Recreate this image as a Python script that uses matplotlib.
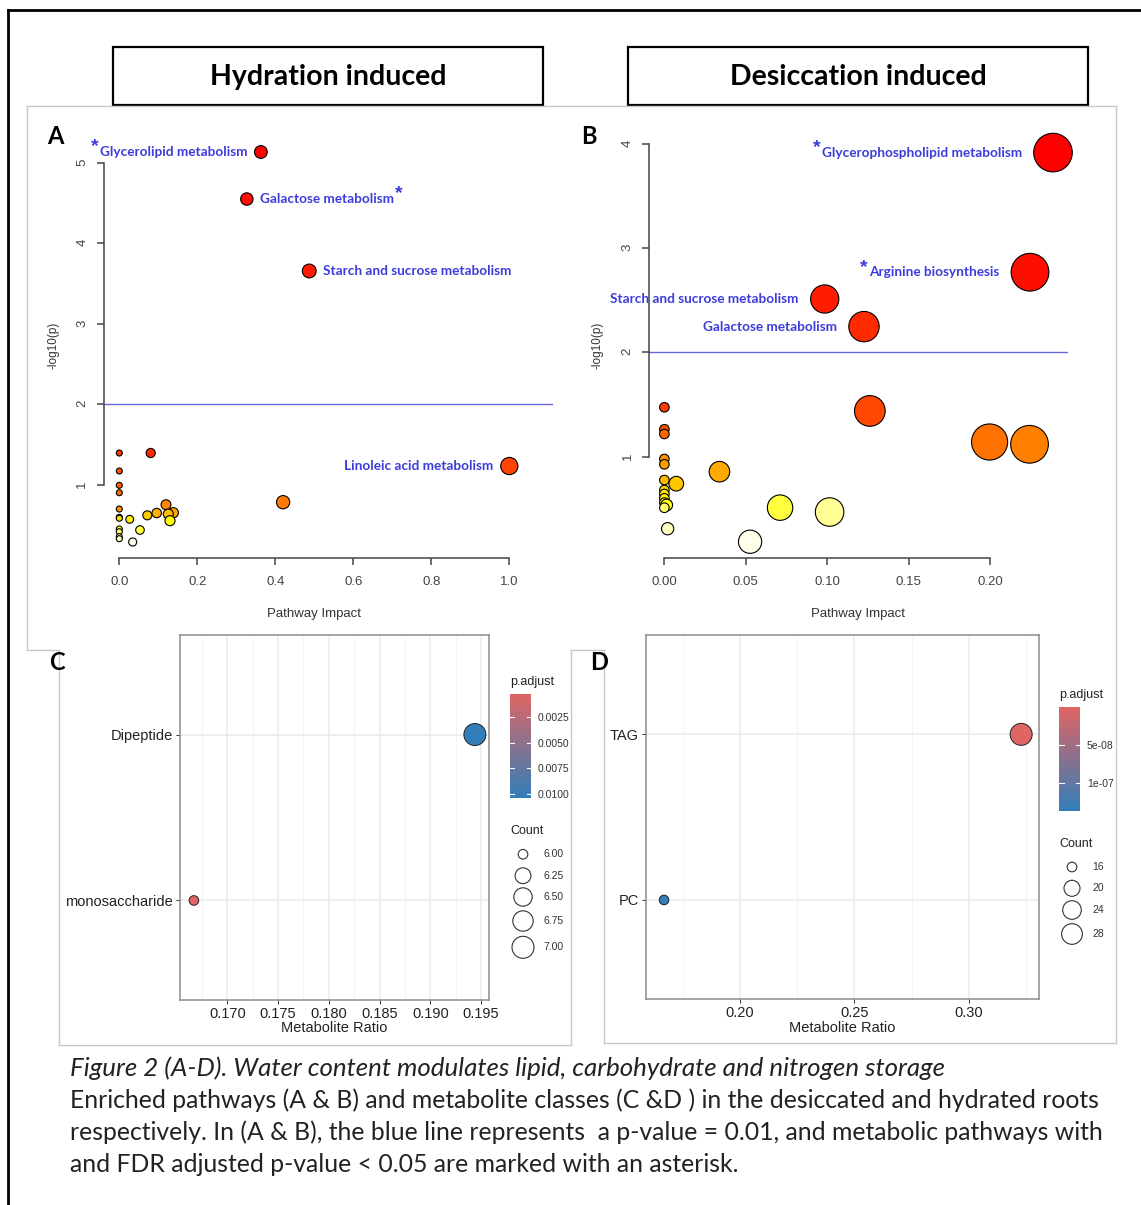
import colorsys
import matplotlib
matplotlib.use("Agg")
import matplotlib.pyplot as plt
import numpy as np
from matplotlib.colors import LinearSegmentedColormap, Normalize
from matplotlib.patches import Rectangle

plt.rcParams["font.family"] = ["Liberation Sans", "DejaVu Sans"]

# ---------------- data ----------------
# Panel A - hydration induced pathways (pathway impact, -log10 p)
labA_names = ["Glycerolipid metabolism", "Galactose metabolism",
              "Starch and sucrose metabolism", "Linoleic acid metabolism"]
labA_impact = [0.363, 0.327, 0.487, 1.0]
labA_logp = [5.136, 4.551, 3.656, 1.23]
labA_fdr = [True, True, False, False]
othA_impact = [0.420, 0.0805, 0.0267, 0.053, 0.0343, 0.0718, 0.0959, 0.1197, 0.1385,
               0.1256, 0.130, 0, 0, 0, 0, 0, 0, 0, 0, 0, 0, 0]
othA_logp = [0.78, 1.392, 0.567, 0.434, 0.285, 0.617, 0.645, 0.749, 0.649,
             0.633, 0.55, 1.392, 1.168, 0.99, 0.898, 0.695, 0.592, 0.58, 0.447,
             0.413, 0.351, 0.326]

# Panel B - desiccation induced pathways
labB_names = ["Glycerophospholipid metabolism", "Arginine biosynthesis",
              "Starch and sucrose metabolism", "Galactose metabolism"]
labB_impact = [0.2385, 0.2244, 0.0984, 0.1225]
labB_logp = [3.918, 2.770, 2.513, 2.248]
labB_fdr = [True, True, False, False]
othB_impact = [0.1261, 0.1996, 0.2241, 0.0338, 0.0073, 0.071, 0.1014, 0.0526, 0.002,
               0.0014, 0, 0, 0, 0, 0, 0, 0, 0, 0, 0, 0]
othB_logp = [1.439, 1.141, 1.119, 0.856, 0.741, 0.511, 0.469, 0.184, 0.309,
             0.536, 1.474, 1.263, 1.218, 0.978, 0.927, 0.776, 0.68, 0.642, 0.60,
             0.559, 0.51]

# Panel C / D - metabolite class enrichment
classC = ["Dipeptide", "monosaccharide"]
ratioC = [0.1944, 0.1667]
countC = [7, 6]
padjC = [0.0104, 0.0003]
cbar_ticksC = [0.0025, 0.0050, 0.0075, 0.0100]
count_breaksC = [6.00, 6.25, 6.50, 6.75, 7.00]

classD = ["TAG", "PC"]
ratioD = [0.3229, 0.1667]
countD = [31, 16]
padjD = [1e-9, 1.375e-7]
cbar_ticksD = [5e-08, 1e-07]
count_breaksD = [16, 20, 24, 28]

caption_title = "Figure 2 (A-D). Water content modulates lipid, carbohydrate and nitrogen storage"
caption_lines = [
    "Enriched pathways (A & B) and metabolite classes (C &D ) in the desiccated and hydrated roots",
    "respectively. In (A & B), the blue line represents  a p-value = 0.01, and metabolic pathways with",
    "and FDR adjusted p-value < 0.05 are marked with an asterisk.",
]

# ---------------- style ----------------
W, H = 1141, 1205
LABEL_BLUE = "#3C3CDC"
LINE_BLUE = "#6666E2"
AXIS_GRAY = "#444444"
PANEL_GRAY = "#C8C8C8"
PCMAP = LinearSegmentedColormap.from_list("padj", ["#e06663", "#327eba"])

fig = plt.figure(figsize=(W / 100, H / 100), dpi=100)


def frac(l, t, r, b):
    return [l / W, 1 - b / H, (r - l) / W, (b - t) / H]


bg = fig.add_axes([0, 0, 1, 1])
bg.set_xlim(0, W)
bg.set_ylim(H, 0)
bg.axis("off")


def heat_colors(n):
    # same ramp as R's heat.colors()
    j = n // 4
    i = n - j
    cols = [colorsys.hsv_to_rgb(h, 1, 1) for h in np.linspace(0, 1 / 6, i)]
    cols += [colorsys.hsv_to_rgb(1 / 6, s, 1)
             for s in np.linspace(1 - 1 / (2 * j), 1 / (2 * j), j)]
    return np.array(cols)


def pathway_panel(box, xlim, ylim, xspan, yspan, xticks, xlabels, yticks,
                  lab_imp, lab_logp, lab_names, lab_side,
                  oth_imp, oth_logp, rmin, rmax, gap):
    ax = fig.add_axes(frac(*box))
    ax.set_facecolor("none")
    imp = np.array(lab_imp + oth_imp)
    lp = np.array(lab_logp + oth_logp)
    order = np.argsort(-lp, kind="stable")
    cols = np.zeros((len(lp), 3))
    cols[order] = heat_colors(len(lp))
    radius = rmin + (rmax - rmin) * np.sqrt(imp / imp.max())
    size = (2 * radius * 0.72) ** 2
    ax.axhline(2, color=LINE_BLUE, lw=1.0, zorder=1)
    ax.scatter(imp[order], lp[order], s=size[order], c=cols[order],
               edgecolors="black", linewidths=0.8, zorder=3, clip_on=False)
    ax.set_xlim(xlim)
    ax.set_ylim(ylim)
    for s in ("top", "right"):
        ax.spines[s].set_visible(False)
    ax.spines["left"].set_bounds(*yspan)
    ax.spines["bottom"].set_bounds(*xspan)
    for s in ("left", "bottom"):
        ax.spines[s].set_color(AXIS_GRAY)
        ax.spines[s].set_linewidth(1.1)
    ax.set_xticks(xticks)
    ax.set_xticklabels(xlabels)
    ax.set_yticks(yticks)
    ax.tick_params(axis="both", length=5, width=1.1, color=AXIS_GRAY,
                   labelcolor=AXIS_GRAY, labelsize=9.5, pad=8)
    ax.tick_params(axis="y", labelrotation=90, pad=6)
    texts = []
    for x, y, name, side in zip(lab_imp, lab_logp, lab_names, lab_side):
        r = rmin + (rmax - rmin) * np.sqrt(x / imp.max())
        off = (r + gap) * (1 if side == "right" else -1)
        t = ax.annotate(name, (x, y), xytext=(off, 0), textcoords="offset pixels",
                        ha="left" if side == "right" else "right", va="center",
                        color=LABEL_BLUE, fontsize=9.8, fontweight="bold",
                        family="Lato", zorder=4)
        texts.append(t)
    return ax, texts


axA, txtA = pathway_panel((103.7, 134.8, 553, 558), (-0.040, 1.112), (0.086, 5.35),
                          (0, 1), (1, 5), [0, 0.2, 0.4, 0.6, 0.8, 1.0],
                          ["0.0", "0.2", "0.4", "0.6", "0.8", "1.0"], [1, 2, 3, 4, 5],
                          labA_impact, labA_logp, labA_names,
                          ["left", "right", "right", "left"],
                          othA_impact, othA_logp, 3.0, 8.6, 7)
axB, txtB = pathway_panel((648.9, 135.7, 1068.3, 558.3), (-0.0095, 0.2479), (0.025, 4.08),
                          (0, 0.2), (1, 4), [0, 0.05, 0.10, 0.15, 0.20],
                          ["0.00", "0.05", "0.10", "0.15", "0.20"], [1, 2, 3, 4],
                          labB_impact, labB_logp, labB_names,
                          ["left", "left", "left", "left"],
                          othB_impact, othB_logp, 4.8, 19.3, 12)

for x in (54, 597):
    bg.text(x, 345, "-log10(p)", rotation=90, ha="center", va="center",
            fontsize=8.5, color="#333333")
for x in (314, 858):
    bg.text(x, 614, "Pathway Impact", ha="center", va="center", fontsize=9.5,
            color="#333333")


def count_radius(c, cmin, cmax):
    return 4.8 + 6.2 * np.sqrt((np.asarray(c, float) - cmin) / (cmax - cmin))


def dot_panel(box, xlim, xticks, xlabels, minor, cats, ratio, count, padj,
              cbox, cticks, cfmt, ptitle, breaks, bfmt, ctitle, bx, by, blx):
    ax = fig.add_axes(frac(*box))
    ypos = np.arange(len(cats))[::-1] + 1
    ax.set_xlim(xlim)
    ax.set_ylim(0.4, len(cats) + 0.6)
    ax.set_xticks(xticks)
    ax.set_xticklabels(xlabels)
    ax.set_xticks(minor, minor=True)
    ax.set_yticks(ypos)
    ax.set_yticklabels(cats)
    ax.grid(which="major", color="#EBEBEB", lw=1.1)
    ax.grid(which="minor", axis="x", color="#F2F2F2", lw=0.6)
    ax.set_axisbelow(True)
    ax.tick_params(which="minor", length=0)
    ax.tick_params(which="major", length=3, width=0.7, color="#333333",
                   labelcolor="#222222", labelsize=10.5, pad=2)
    for s in ax.spines.values():
        s.set_color("#8C8C8C")
        s.set_linewidth(1.1)
    cmin, cmax = min(count), max(count)
    norm = Normalize(min(padj), max(padj))
    size = (2 * count_radius(count, cmin, cmax) * 0.72) ** 2
    ax.scatter(ratio, ypos, s=size, c=padj, cmap=PCMAP, norm=norm,
               edgecolors="#222222", linewidths=0.7, zorder=3)
    cx = (box[0] + box[2]) / 2
    bg.text(cx, 1028, "Metabolite Ratio", ha="center", va="center",
            fontsize=10.5, color="#222222")

    # colour bar (low p.adjust at the top)
    cax = fig.add_axes(frac(*cbox))
    lo, hi = min(padj), max(padj)
    vals = np.linspace(lo, hi, 256)
    cax.imshow(vals[:, None], aspect="auto", cmap=PCMAP, norm=norm,
               extent=[0, 1, hi, lo])
    cax.set_xticks([])
    cax.set_yticks(cticks)
    cax.set_yticklabels([cfmt(v) for v in cticks])
    cax.yaxis.tick_right()
    cax.tick_params(length=0, labelsize=7.5, pad=5, labelcolor="#333333")
    for s in cax.spines.values():
        s.set_visible(False)
    for v in cticks:
        cax.plot([0, 0.2], [v, v], color="white", lw=0.8)
        cax.plot([0.8, 1], [v, v], color="white", lw=0.8)
    bg.text(cbox[0], cbox[1] - 12, ptitle, ha="left", va="center", fontsize=9,
            color="#222222")

    # size legend
    bg.text(cbox[0], by[0] - 23, ctitle, ha="left", va="center", fontsize=9,
            color="#222222")
    bsize = (2 * count_radius(breaks, cmin, cmax) * 0.72) ** 2
    bg.scatter([bx] * len(breaks), by, s=bsize, facecolors="white",
               edgecolors="#333333", linewidths=0.8)
    for yy, b in zip(by, breaks):
        bg.text(blx, yy, bfmt(b), ha="left", va="center", fontsize=7.5,
                color="#333333")
    return ax


dot_panel((179.5, 635, 489.4, 1000), (0.16528, 0.19583),
          [0.170, 0.175, 0.180, 0.185, 0.190, 0.195],
          ["0.170", "0.175", "0.180", "0.185", "0.190", "0.195"],
          [0.1675, 0.1725, 0.1775, 0.1825, 0.1875, 0.1925],
          classC, ratioC, countC, padjC,
          (510, 694, 530.7, 798.3), cbar_ticksC, lambda v: f"{v:.4f}", "p.adjust",
          count_breaksC, lambda b: f"{b:.2f}", "Count", 523,
          [854.3, 875.7, 897, 921, 947.3], 543)

dot_panel((645.5, 635, 1039, 999.3), (0.1586, 0.3307),
          [0.20, 0.25, 0.30], ["0.20", "0.25", "0.30"],
          [0.175, 0.225, 0.275, 0.325],
          classD, ratioD, countD, padjD,
          (1059.4, 707.3, 1080, 811), cbar_ticksD, lambda v: f"{v:.0e}",
          "p.adjust", count_breaksD, lambda b: f"{b:d}", "Count", 1072,
          [867, 888.3, 910, 934], 1092)

# ---------------- frame, headers, panel borders ----------------
bg.plot([8, 8], [10, H], color="black", lw=2)
bg.plot([8, W], [10, 10], color="black", lw=2)

for (l, r, label) in [(113, 543, "Hydration induced"), (628, 1088, "Desiccation induced")]:
    bg.add_patch(Rectangle((l, 47), r - l, 58, fill=False, ec="black", lw=1.6))
    bg.text((l + r) / 2, 77, label, ha="center", va="center", fontsize=20.5,
            fontweight="bold", family="Lato", color="black")

gray_segments = [
    ([27, 27], [106, 650]), ([27, 1116], [106, 106]), ([1116, 1116], [106, 1043]),
    ([27, 59], [650, 650]), ([571, 604], [650, 650]),
    ([59, 59], [650, 1045]), ([59, 571], [1045, 1045]), ([571, 571], [650, 1045]),
    ([604, 604], [650, 1043]), ([604, 1116], [1043, 1043]),
]
for xs, ys in gray_segments:
    bg.plot(xs, ys, color=PANEL_GRAY, lw=1)

for (x, y, letter) in [(55, 136, "A"), (589, 136, "B"), (57, 662, "C"), (599, 662, "D")]:
    bg.text(x, y, letter, ha="center", va="center", fontsize=17,
            fontweight="bold", family="Lato", color="black")

bg.text(70, 1068, caption_title, ha="left", va="center", fontsize=18.6,
        style="italic", family="Lato", color="#222222")
for k, line in enumerate(caption_lines):
    bg.text(70, 1100 + 32 * k, line, ha="left", va="center", fontsize=17.8,
            family="Lato", color="#222222")

# ---------------- asterisks next to FDR significant pathways ----------------
fig.canvas.draw()
renderer = fig.canvas.get_renderer()
inv = bg.transData.inverted()
for texts, fdr, where in [(txtA, labA_fdr, ["before", "after", None, None]),
                          (txtB, labB_fdr, ["before", "before", None, None])]:
    for t, flag, w in zip(texts, fdr, where):
        if not flag:
            continue
        bb = t.get_window_extent(renderer)
        x0, y0 = inv.transform((bb.x0, bb.y1))
        x1, _ = inv.transform((bb.x1, bb.y1))
        if w == "before":
            bg.text(x0 - 1, y0 + 1, "*", ha="right", va="center", fontsize=14,
                    fontweight="bold", color=LABEL_BLUE)
        else:
            bg.text(x1 + 1, y0 + 1, "*", ha="left", va="center", fontsize=14,
                    fontweight="bold", color=LABEL_BLUE)

fig.savefig("out.png", dpi=100)
